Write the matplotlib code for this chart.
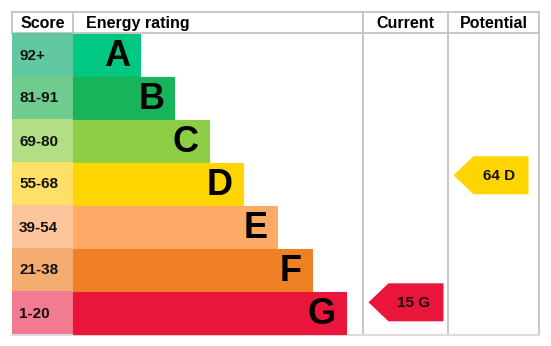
import matplotlib.pyplot as plt
from matplotlib.patches import Rectangle, Polygon

# chart data
bands = ["A", "B", "C", "D", "E", "F", "G"]
score_labels = ["92+", "81-91", "69-80", "55-68", "39-54", "21-38", "1-20"]
score_lo = [92, 81, 69, 55, 39, 21, 1]
score_hi = [100, 91, 80, 68, 54, 38, 20]
bar_colors = ["#00c781", "#19b459", "#8dce46", "#ffd500", "#fcaa65", "#ef8023", "#e9153b"]
cell_colors = ["#62c8a2", "#6fcb8e", "#b4de86", "#ffe066", "#fdc59c", "#f4ac70", "#f27a91"]
headers = ["Score", "Energy rating", "Current", "Potential"]
current = 15
potential = 64

# layout (pixel units)
W, H = 551, 346
left, top, head_h, row_h = 12, 12, 21, 43
col_x = [12, 73, 363, 448, 539]
bar0, bar_step = 140, 34.3
grid = "#c3c3c3"
font = "Liberation Sans"

fig = plt.figure(figsize=(W / 100, H / 100), dpi=100)
ax = fig.add_axes([0, 0, 1, 1])
ax.set_xlim(0, W)
ax.set_ylim(H, 0)
ax.axis("off")

body_top = top + head_h
body_bot = body_top + row_h * len(bands)

# grid lines (under the bars)
for j, x in enumerate(col_x):
    y_end = body_top if j < 2 else body_bot
    ax.plot([x, x], [top, y_end], color=grid, lw=1.3, zorder=1)
ax.plot([col_x[0], col_x[-1]], [top, top], color=grid, lw=1.3, zorder=1)
ax.plot([col_x[0], col_x[-1]], [body_top, body_top], color=grid, lw=1.3, zorder=1)
ax.plot([col_x[0], col_x[-1]], [body_bot + 0.5, body_bot + 0.5], color="#dddddd", lw=1.5, zorder=1)

for i, b in enumerate(bands):
    y = body_top + i * row_h
    ax.add_patch(Rectangle((col_x[0], y), col_x[1] - col_x[0], row_h,
                           facecolor=cell_colors[i], edgecolor="none", zorder=2))
    right = bar0 + bar_step * i
    ax.add_patch(Rectangle((col_x[1], y + 0.5), right - col_x[1], row_h - 1,
                           facecolor=bar_colors[i], edgecolor=bar_colors[i], lw=0.8, zorder=2))
    ax.text(col_x[0] + 7, y + row_h / 2 + 1, score_labels[i], ha="left", va="center",
            fontsize=11, fontweight="bold", family=font, color="#111111", zorder=3)
    ax.text(right - 10, y + row_h / 2 + 2, b, ha="right", va="center",
            fontsize=26, fontweight="bold", family=font, color="black", zorder=3)

# headers
ax.text((col_x[0] + col_x[1]) / 2, top + head_h / 2 + 1, headers[0], ha="center", va="center",
        fontsize=11.5, fontweight="bold", family=font)
ax.text(col_x[1] + 13, top + head_h / 2 + 1, headers[1], ha="left", va="center",
        fontsize=11.5, fontweight="bold", family=font)
ax.text((col_x[2] + col_x[3]) / 2, top + head_h / 2 + 1, headers[2], ha="center", va="center",
        fontsize=11.5, fontweight="bold", family=font)
ax.text((col_x[3] + col_x[4]) / 2, top + head_h / 2 + 1, headers[3], ha="center", va="center",
        fontsize=11.5, fontweight="bold", family=font)


def rating_y(score):
    for i in range(len(bands)):
        if score_lo[i] <= score <= score_hi[i]:
            frac = (score_hi[i] - score) / (score_hi[i] - score_lo[i])
            return body_top + i * row_h + frac * row_h, i
    return body_bot, len(bands) - 1


def arrow(col, score):
    yc, i = rating_y(score)
    x0 = col_x[col] + 5.5
    x1 = x0 + 75
    hh = 19
    pts = [(x0, yc), (x0 + 20, yc - hh), (x1, yc - hh), (x1, yc + hh), (x0 + 20, yc + hh)]
    ax.add_patch(Polygon(pts, closed=True, facecolor=bar_colors[i], edgecolor="none", zorder=2))
    ax.text((x0 + 20 + x1) / 2 - 2, yc + 1, f"{score} {bands[i]}", ha="center", va="center",
            fontsize=11, fontweight="bold", family=font, color="#111111", zorder=3)


arrow(2, current)
arrow(3, potential)

fig.savefig("out.png", dpi=100)
